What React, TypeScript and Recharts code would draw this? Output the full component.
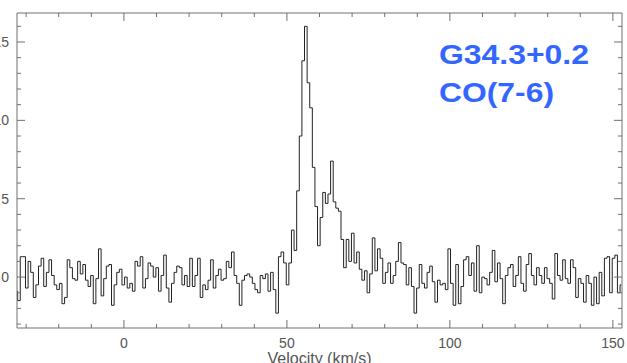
import { LineChart, Line, XAxis, YAxis } from "recharts";

// channel grid of the spectrum (km/s)
const V_START = -33;
const CHANNEL = 0.8;

// antenna temperature per channel
const tBaseLeft = [
  -0.9, -1.5, 1.3, 1.3, -0.7, 1.0, 0.3, -1.3, -0.5, 0.7,
  1.2, -0.6, 0.3, 1.1, 0.1, -0.5, -0.8, -0.4, -1.7, -1.3,
  1.1, 0.6, -0.1, -0.2, 1.0, 0.2, 0.8, -0.2, -0.6, 0.1,
  -1.7, -0.1, 1.8, -1.2, -0.1, 0.7, 0.8, -1.8, -0.5, 0.3,
  0.5, -0.5, 0.0, -0.7, -0.4, -0.9, 1.0, 0.7,
];
const tBaseMid = [
  1.3, -0.7, -0.1, 0.9, 0.7, 0.0, 0.6, -0.9, 0.1, 1.4,
  -0.7, -1.6, -0.4, 0.3, 0.7, 0.6, -0.5, 0.1, -0.6, 1.2,
  -0.6, 0.1, 1.2, -1.3, -0.5, -0.8, -0.2, 1.1, -0.7, 0.1,
  0.5, -0.2, -0.1, 1.0, 0.6, 1.6, 0.1, -0.4, -1.8, -0.2,
  0.1, 0.2, 0.0, -0.4, -0.8, -1.0, 0.1, -0.1,
];
const tLine = [
  0.2, -0.9, 0.3, -0.8, -2.3, 1.3, 1.6, 0.9, -0.5, 0.9,
  3.0, 1.7, 5.5, 9.0, 13.8, 16.0, 12.4, 10.8, 7.0, 4.5,
  2.0, 3.8, 5.4, 4.7, 5.3, 7.4, 4.8, 4.4, 4.2, 2.4,
  0.6, 2.4, 1.0, 2.8, 0.9, 1.6, 0.5, -0.2, 0.4, -1.0,
  0.2, 2.5, 0.4, 1.8, 1.2, -0.4, 0.3,
];
const tBaseRight = [
  0.9, -0.4, 0.1, 1.0, 2.2, 0.9, 0.8, -0.5, 0.6, -0.6,
  -2.3, -0.7, 0.8, -0.4, -0.7, 0.3, 0.7, -0.3, -1.6, -0.2,
  -0.5, -0.4, -0.8, 1.8, -0.4, -1.8, 0.8, -1.7, -0.6, 1.1,
  1.3, 0.1, 0.9, -0.9, 2.0, -1.0, 0.0, -0.1, -0.5, 0.3,
  1.7, -0.3, 0.9, -0.1, -1.7, 0.1, 0.6,
];
const tBaseFar = [
  0.8, -0.6, 0.1, 1.3, -0.4, -0.9, 0.8, 1.5, 0.1, -0.5,
  0.6, 0.1, -0.4, 0.6, -0.1, -0.4, -1.4, 1.5, 0.1, -0.2,
  1.1, -0.1, -0.4, 1.1, 0.6, -1.3, -0.1, -0.4, -1.6, 0.1,
  -0.4, -1.8, 0.0, -1.7, 0.3, -1.2, 1.2, 1.3, -1.0, 1.2,
  1.4, -1.0, -0.5,
];

const xTicks = [-30, -20, -10, 0, 10, 20, 30, 40, 50, 60, 70, 80, 90, 100, 110, 120, 130, 140, 150];
const xLabels = [0, 50, 100, 150];
const yTicks = [-3, -2, -1, 0, 1, 2, 3, 4, 5, 6, 7, 8, 9, 10, 11, 12, 13, 14, 15, 16];
const yLabels = [0, 5, 10, 15];

const intensity = [...tBaseLeft, ...tBaseMid, ...tLine, ...tBaseRight, ...tBaseFar];
const data = intensity.map((t, i) => ({ v: +(V_START + i * CHANNEL).toFixed(2), t }));

const X_DOMAIN: [number, number] = [-32.8, 152.8];
const Y_DOMAIN: [number, number] = [-3.25, 16.85];

const AXIS = "#707070";
const LABEL = "#555";
const FONT = "'Liberation Sans', Arial, sans-serif";
const MAJOR = 8;
const MINOR = 4;

function BottomTick(p: any) {
  const { x, y, payload } = p;
  const major = xLabels.includes(payload.value);
  return (
    <g>
      <line x1={x} x2={x} y1={y} y2={y - (major ? MAJOR : MINOR)} stroke={AXIS} />
      {major && (
        <text x={x} y={y + 20} textAnchor="middle" fontSize={14} fontFamily={FONT} fill={LABEL}>
          {payload.value}
        </text>
      )}
    </g>
  );
}

function TopTick(p: any) {
  const { x, y, payload } = p;
  const major = xLabels.includes(payload.value);
  return <line x1={x} x2={x} y1={y} y2={y + (major ? MAJOR : MINOR)} stroke={AXIS} />;
}

function LeftTick(p: any) {
  const { x, y, payload } = p;
  const major = yLabels.includes(payload.value);
  return (
    <g>
      <line x1={x} x2={x + (major ? MAJOR : MINOR)} y1={y} y2={y} stroke={AXIS} />
      {major && (
        <text x={x - 8} y={y + 5} textAnchor="end" fontSize={14} fontFamily={FONT} fill={LABEL}>
          {payload.value}
        </text>
      )}
    </g>
  );
}

function RightTick(p: any) {
  const { x, y, payload } = p;
  const major = yLabels.includes(payload.value);
  return <line x1={x} x2={x - (major ? MAJOR : MINOR)} y1={y} y2={y} stroke={AXIS} />;
}

export default function App() {
  return (
    <div style={{ position: "absolute", left: 0, top: 0, width: 627, height: 363, overflow: "hidden", background: "#fff" }}>
      <LineChart width={627} height={363} data={data} margin={{ top: 12, right: 4, bottom: 0, left: 0 }}>
        <XAxis
          xAxisId="bottom"
          dataKey="v"
          type="number"
          domain={X_DOMAIN}
          allowDataOverflow
          ticks={xTicks}
          interval={0}
          height={35}
          tickSize={0}
          tickMargin={0}
          tickLine={false}
          axisLine={{ stroke: AXIS }}
          tick={(p: any) => <BottomTick {...p} />}
          label={{ value: "Velocity (km/s)", position: "insideBottom", offset: -1, fill: LABEL, fontSize: 16, fontFamily: FONT }}
        />
        {/* frame: top and right axes carry ticks only */}
        <XAxis
          xAxisId="top"
          orientation="top"
          dataKey="v"
          type="number"
          domain={X_DOMAIN}
          allowDataOverflow
          ticks={xTicks}
          interval={0}
          height={1}
          tickSize={0}
          tickMargin={0}
          tickLine={false}
          axisLine={{ stroke: AXIS }}
          tick={(p: any) => <TopTick {...p} />}
        />
        <YAxis
          yAxisId="left"
          type="number"
          domain={Y_DOMAIN}
          allowDataOverflow
          ticks={yTicks}
          interval={0}
          width={17}
          tickSize={0}
          tickMargin={0}
          tickLine={false}
          axisLine={{ stroke: AXIS }}
          tick={(p: any) => <LeftTick {...p} />}
        />
        <YAxis
          yAxisId="right"
          orientation="right"
          type="number"
          domain={Y_DOMAIN}
          allowDataOverflow
          ticks={yTicks}
          interval={0}
          width={1}
          tickSize={0}
          tickMargin={0}
          tickLine={false}
          axisLine={{ stroke: AXIS }}
          tick={(p: any) => <RightTick {...p} />}
        />
        <Line
          xAxisId="top"
          yAxisId="right"
          type="step"
          dataKey="t"
          stroke="none"
          dot={false}
          legendType="none"
          isAnimationActive={false}
        />
        <Line
          xAxisId="bottom"
          yAxisId="left"
          type="step"
          dataKey="t"
          stroke="#222"
          strokeWidth={1}
          dot={false}
          isAnimationActive={false}
        />
      </LineChart>
      <svg width={627} height={363} style={{ position: "absolute", left: 0, top: 0, pointerEvents: "none" }}>
        <text x={439} y={64} fontFamily={FONT} fontWeight="bold" fontSize={28} fill="#3366ff" textLength={150} lengthAdjust="spacingAndGlyphs">
          G34.3+0.2
        </text>
        <text x={439} y={102} fontFamily={FONT} fontWeight="bold" fontSize={28} fill="#3366ff" textLength={115} lengthAdjust="spacingAndGlyphs">
          CO(7-6)
        </text>
      </svg>
    </div>
  );
}
